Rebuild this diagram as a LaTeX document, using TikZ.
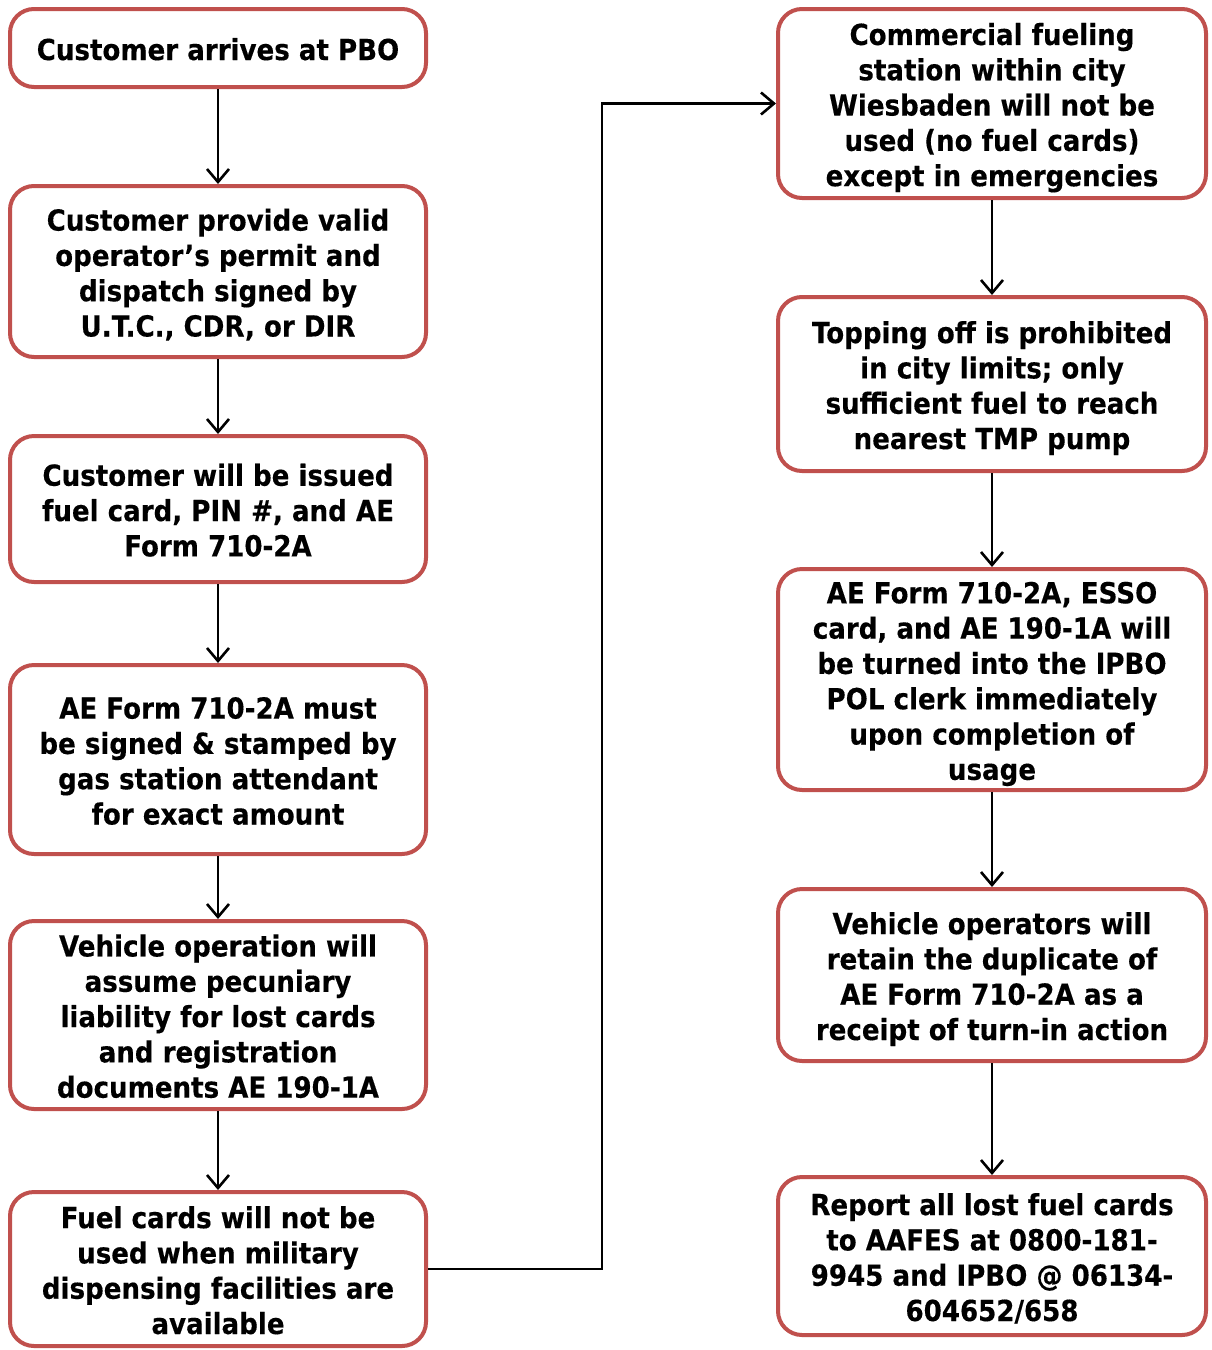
\documentclass[tikz,border=0pt]{standalone}
\usepackage{fontspec}
\setmainfont{DejaVu Sans}[FakeStretch=0.9, BoldFeatures={FakeBold=0.3}]
\usetikzlibrary{arrows.meta}
\definecolor{boxred}{HTML}{C0504D}
\newcommand\bxtext[1]{\raisebox{-5pt}[\height][\depth]{\begin{tabular}{@{}c@{}}#1\end{tabular}}}
\begin{document}
\begin{tikzpicture}[x=1pt,y=-1pt,
  box/.style={draw=boxred, line width=4pt, rounded corners=24pt, fill=white,
    inner sep=0pt, font=\fontsize{29}{35.3}\selectfont\bfseries},
  lbox/.style={box, minimum width=416pt},
  rbox/.style={box, minimum width=428pt},
  arr/.style={draw=black, line width=2.6pt, -{Straight Barb[length=13pt,width=22pt,line width=2.6pt]}}]
\useasboundingbox (0,0) rectangle (1211,1350);
\node[lbox, minimum height=78pt] (L1) at (218,48) {\bxtext{Customer arrives at PBO}};
\node[lbox, minimum height=171pt] (L2) at (218,271.5) {\bxtext{Customer provide valid\\operator’s permit and\\dispatch signed by\\U.T.C., CDR, or DIR}};
\node[lbox, minimum height=146pt] (L3) at (218,509) {\bxtext{Customer will be issued\\fuel card, PIN \#, and AE\\Form 710-2A}};
\node[lbox, minimum height=189pt] (L4) at (218,759.5) {\bxtext{AE Form 710-2A must\\be signed \& stamped by\\gas station attendant\\for exact amount}};
\node[lbox, minimum height=188pt] (L5) at (218,1015) {\bxtext{Vehicle operation will\\assume pecuniary\\liability for lost cards\\and registration\\documents AE 190-1A}};
\node[lbox, minimum height=154pt] (L6) at (218,1269) {\bxtext{Fuel cards will not be\\used when military\\dispensing facilities are\\available}};
\node[rbox, minimum height=189pt] (R1) at (992,103.5) {\bxtext{Commercial fueling\\station within city\\Wiesbaden will not be\\used (no fuel cards)\\except in emergencies}};
\node[rbox, minimum height=174pt] (R2) at (992,384) {\bxtext{Topping off is prohibited\\in city limits; only\\sufficient fuel to reach\\nearest TMP pump}};
\node[rbox, minimum height=221pt] (R3) at (992,679.5) {\bxtext{AE Form 710-2A, ESSO\\card, and AE 190-1A will\\be turned into the IPBO\\POL clerk immediately\\upon completion of\\usage}};
\node[rbox, minimum height=172pt] (R4) at (992,975) {\bxtext{Vehicle operators will\\retain the duplicate of\\AE Form 710-2A as a\\receipt of turn-in action}};
\node[rbox, minimum height=158pt] (R5) at (992,1256) {\bxtext{Report all lost fuel cards\\to AAFES at 0800-181-\\9945 and IPBO @ 06134-\\604652/658}};
\coordinate (bend) at (602,0);
\draw[arr] (L1) -- (L2);
\draw[arr] (L2) -- (L3);
\draw[arr] (L3) -- (L4);
\draw[arr] (L4) -- (L5);
\draw[arr] (L5) -- (L6);
\draw[arr] (L6.east) -- (L6.east -| bend) -- (R1.west -| bend) -- (R1.west);
\draw[arr] (R1) -- (R2);
\draw[arr] (R2) -- (R3);
\draw[arr] (R3) -- (R4);
\draw[arr] (R4) -- (R5);
\end{tikzpicture}
\end{document}
